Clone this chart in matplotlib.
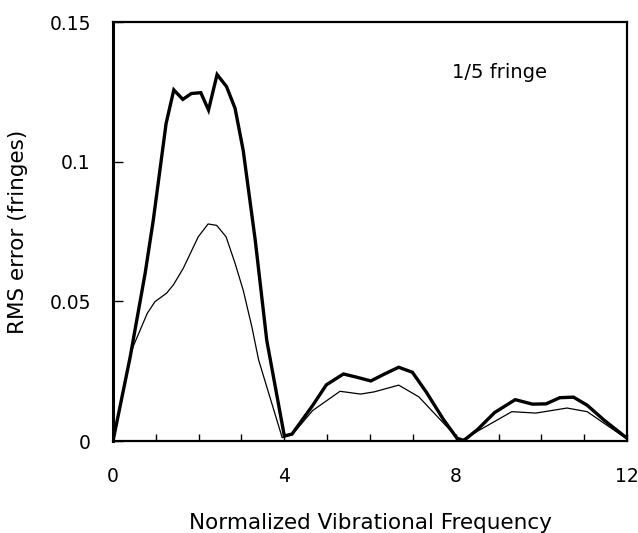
import matplotlib
matplotlib.use("Agg")
import matplotlib.pyplot as plt
import numpy as np

plt.rcParams["font.family"] = ["DejaVu Sans"]

# thick curve
freq_thick = [0.0, 0.40, 0.75, 0.94, 1.24, 1.42, 1.63, 1.83, 2.05, 2.23, 2.43, 2.65,
              2.85, 3.04, 3.32, 3.59, 4.0, 4.18, 4.66, 4.98, 5.38, 5.70, 6.02, 6.34,
              6.67, 6.99, 7.31, 7.71, 8.03, 8.19, 8.51, 8.91, 9.39, 9.79, 10.11,
              10.43, 10.75, 11.07, 11.47, 12.0]
rms_thick = [0.0, 0.030, 0.060, 0.079, 0.1137, 0.1257, 0.1223, 0.1244, 0.1247, 0.1185,
             0.1312, 0.1269, 0.1191, 0.104, 0.072, 0.036, 0.0018, 0.0025, 0.0127,
             0.0201, 0.0240, 0.0228, 0.0215, 0.0240, 0.0264, 0.0246, 0.0176, 0.0078,
             0.0010, 0.0002, 0.0041, 0.0102, 0.0148, 0.0132, 0.0133, 0.0155, 0.0157,
             0.0128, 0.0074, 0.0010]

# thin curve
freq_thin = [0.0, 0.40, 0.47, 0.80, 0.98, 1.25, 1.41, 1.64, 1.99, 2.22, 2.42, 2.64,
             2.85, 3.04, 3.24, 3.40, 3.95, 4.18, 4.66, 5.30, 5.78, 6.10, 6.67, 7.14,
             7.71, 8.11, 8.51, 9.31, 9.87, 10.6, 11.07, 12.0]
rms_thin = [0.0, 0.030, 0.0338, 0.0457, 0.0499, 0.0529, 0.0559, 0.0618, 0.0731,
            0.0777, 0.0772, 0.0731, 0.0636, 0.054, 0.041, 0.029, 0.0012, 0.0022,
            0.0109, 0.0178, 0.0168, 0.0176, 0.0200, 0.0158, 0.0065, 0.0, 0.0035,
            0.0105, 0.0100, 0.0118, 0.0105, 0.0007]

x_major = [0, 4, 8, 12]
y_ticks = [0, 0.05, 0.1, 0.15]
y_labels = ["0", "0.05", "0.1", "0.15"]

fig = plt.figure(figsize=(6.38, 5.33), dpi=100)
ax = fig.add_axes([0.1771, 0.1726, 0.9828 - 0.1771, 0.9587 - 0.1726])

ax.plot(freq_thin, rms_thin, color="black", linewidth=0.9)
ax.plot(freq_thick, rms_thick, color="black", linewidth=2.4, solid_joinstyle="miter")

ax.set_xlim(0, 12)
ax.set_ylim(0, 0.15)
ax.set_xticks(x_major)
ax.set_xticklabels([str(v) for v in x_major])
ax.set_xticks(np.arange(0, 13, 1), minor=True)
ax.set_yticks(y_ticks)
ax.set_yticklabels(y_labels)
ax.tick_params(axis="x", which="both", direction="in", length=5, width=1.0,
               pad=19, labelsize=13.5)
ax.tick_params(axis="y", direction="in", length=7, width=1.0, pad=16, labelsize=13.5)

for side in ["top", "right", "bottom"]:
    ax.spines[side].set_linewidth(1.6)
ax.spines["left"].set_linewidth(2.2)

ax.set_xlabel("Normalized Vibrational Frequency", fontsize=15.5, va="center")
ax.xaxis.set_label_coords(0.5, -0.196)
ax.set_ylabel("RMS error (fringes)", fontsize=15.5, va="center")
ax.yaxis.set_label_coords(-0.185, 0.5)
ax.text(0.66, 0.88, "1/5 fringe", transform=ax.transAxes, fontsize=14,
        ha="left", va="center")

fig.savefig("out.png", dpi=100)
